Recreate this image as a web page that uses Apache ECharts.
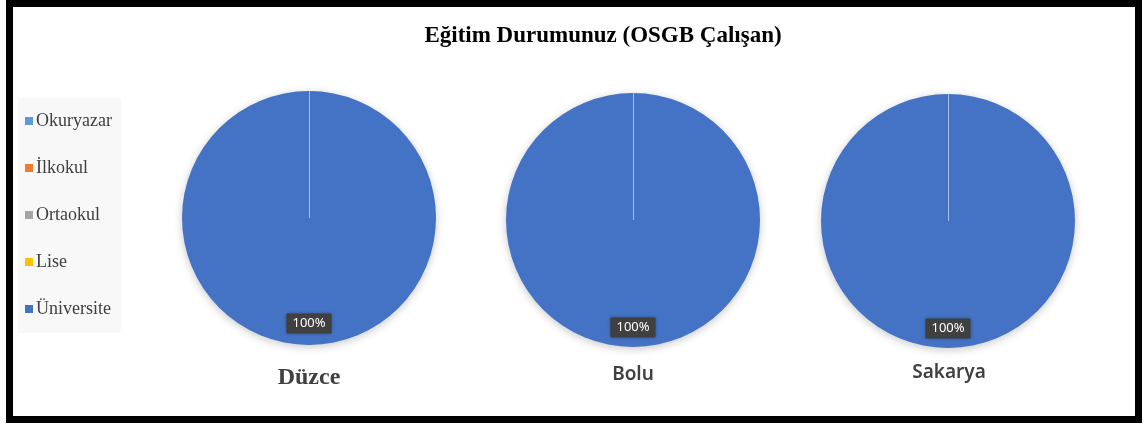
<!DOCTYPE html>
<html>
<head>
<meta charset="utf-8">
<script src="https://cdn.jsdelivr.net/npm/echarts@6/dist/echarts.min.js"></script>
<style>
  html, body { margin: 0; padding: 0; background: #fff; }
  #chart { width: 1144px; height: 425px; }
</style>
</head>
<body>
<div id="chart"></div>
<script>
// education levels (legend order) and the three provinces
const levels = ['Okuryazar', 'İlkokul', 'Ortaokul', 'Lise', 'Üniversite'];
const cities = ['Düzce', 'Bolu', 'Sakarya'];

// share of each level, per province (%)
const duzceValues = [0, 0, 0, 0, 100];
const boluValues = [0, 0, 0, 0, 100];
const sakaryaValues = [0, 0, 0, 0, 100];

const palette = ['#5B9BD5', '#ED7D31', '#A5A5A5', '#FFC000', '#4472C4'];

const serif = '"Liberation Serif", "Times New Roman", serif';
const sans = '"Noto Sans", "Open Sans", sans-serif';

// pie geometry and name placement
const pieRadius = 127;
const pieCenters = [[309, 218], [633, 220], [948, 221]];
const labelOffsets = [39, 41, 41];
const nameStyles = [
    { left: 309, top: 366, fontFamily: serif, fontSize: 24, fontWeight: 'bold' },
    { left: 633, top: 365, fontFamily: sans, fontSize: 19, fontWeight: 600 },
    { left: 949, top: 363, fontFamily: sans, fontSize: 19, fontWeight: 600 },
];

function buildData(values) {
    return values.map(function (v, i) {
        const item = { name: levels[i], value: v, itemStyle: { color: palette[i] } };
        if (v === 0) item.label = { show: false };
        return item;
    });
}

const seriesValues = [duzceValues, boluValues, sakaryaValues];

// thin slice edge at 12 o'clock (where the empty slices sit)
const edgeLines = pieCenters.map(function (c) {
    return {
        type: 'line',
        z: 50,
        silent: true,
        shape: { x1: c[0] + 0.5, y1: c[1], x2: c[0] + 0.5, y2: c[1] - pieRadius },
        style: { stroke: 'rgba(255,255,255,0.55)', lineWidth: 1 },
    };
});

const chart = echarts.init(document.getElementById('chart'));
chart.setOption({
    animation: false,
    color: palette,
    title: [
        {
            text: 'Eğitim Durumunuz (OSGB Çalışan)',
            left: 603,
            top: 25,
            textAlign: 'center',
            padding: 0,
            textStyle: { fontFamily: serif, fontSize: 23, fontWeight: 'bold', color: '#000' },
        },
    ].concat(cities.map(function (c, i) {
        const s = nameStyles[i];
        return {
            text: c,
            left: s.left,
            top: s.top,
            textAlign: 'center',
            padding: 0,
            textStyle: { fontFamily: s.fontFamily, fontSize: s.fontSize, fontWeight: s.fontWeight, color: '#404040' },
        };
    })),
    legend: {
        orient: 'vertical',
        left: 18,
        top: 98,
        padding: [14, 9, 15, 7],
        backgroundColor: '#f8f8f8',
        icon: 'rect',
        itemWidth: 8,
        itemHeight: 8,
        itemGap: 29,
        selectedMode: false,
        data: levels,
        textStyle: { fontFamily: serif, fontSize: 18, color: '#404040', lineHeight: 18, padding: [0, 0, 0, -2] },
    },
    graphic: [
        {
            type: 'rect',
            z: 100,
            shape: { x: 9.5, y: 3.5, width: 1129, height: 416 },
            style: { fill: 'none', stroke: '#000', lineWidth: 7 },
        },
    ].concat(edgeLines),
    series: seriesValues.map(function (vals, i) {
        return {
            name: cities[i],
            type: 'pie',
            center: pieCenters[i],
            radius: pieRadius,
            startAngle: 90,
            clockwise: true,
            silent: true,
            itemStyle: {
                shadowBlur: 8,
                shadowColor: 'rgba(0,0,0,0.22)',
                shadowOffsetY: 2,
            },
            label: {
                show: true,
                position: 'inside',
                formatter: '{d}%',
                offset: [0, labelOffsets[i]],
                fontFamily: sans,
                fontSize: 13,
                color: '#fff',
                backgroundColor: '#404040',
                padding: [4, 6, 3, 6],
                borderRadius: 1,
                shadowBlur: 3,
                shadowColor: 'rgba(0,0,0,0.35)',
            },
            labelLine: { show: false },
            data: buildData(vals),
        };
    }),
});
</script>
</body>
</html>
